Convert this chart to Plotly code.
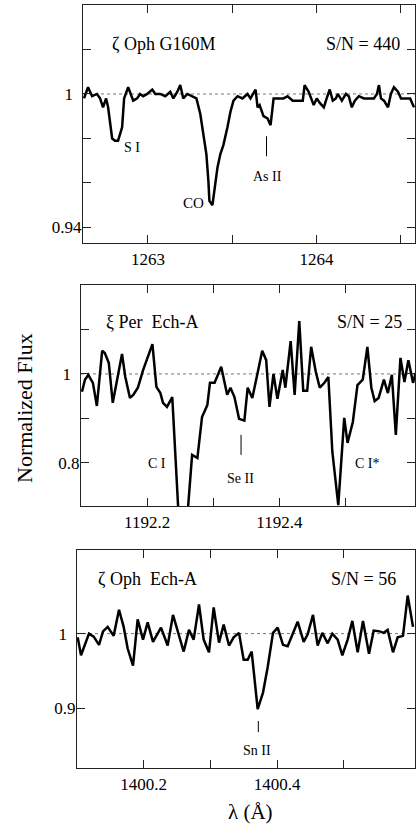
import plotly.graph_objects as go

# ---------------- Panel 1: zeta Oph G160M ----------------
wl1 = [1262.621, 1262.645, 1262.669, 1262.698, 1262.716, 1262.734, 1262.752, 1262.764,
       1262.788, 1262.805, 1262.823, 1262.847, 1262.859, 1262.883, 1262.913, 1262.936,
       1262.954, 1262.972, 1262.996, 1263.026, 1263.044, 1263.073, 1263.103, 1263.133,
       1263.151, 1263.175, 1263.192, 1263.210, 1263.234, 1263.264, 1263.288, 1263.311,
       1263.329, 1263.347, 1263.359, 1263.365, 1263.383, 1263.395, 1263.413, 1263.430,
       1263.448, 1263.472, 1263.490, 1263.508, 1263.532, 1263.561, 1263.591, 1263.609,
       1263.639, 1263.651, 1263.663, 1263.686, 1263.710, 1263.728, 1263.746, 1263.776,
       1263.805, 1263.829, 1263.859, 1263.889, 1263.919, 1263.930, 1263.954, 1263.984,
       1264.002, 1264.020, 1264.044, 1264.061, 1264.079, 1264.097, 1264.115, 1264.127,
       1264.151, 1264.175, 1264.192, 1264.210, 1264.228, 1264.252, 1264.282, 1264.311,
       1264.341, 1264.359, 1264.371, 1264.383, 1264.401, 1264.425, 1264.442, 1264.460,
       1264.484, 1264.502, 1264.532, 1264.556, 1264.579]
flux1 = [0.998, 1.003, 0.999, 1.000, 0.998, 0.994, 0.998, 0.994,
         0.980, 0.979, 0.979, 0.985, 0.998, 1.003, 0.997, 0.998,
         1.000, 0.999, 1.000, 1.002, 1.000, 1.000, 0.999, 1.001,
         0.998, 1.001, 1.004, 0.998, 1.000, 0.999, 0.998, 0.991,
         0.983, 0.973, 0.961, 0.952, 0.950, 0.957, 0.967, 0.973,
         0.977, 0.985, 0.992, 0.997, 0.999, 0.998, 1.000, 0.998,
         1.002, 0.994, 0.995, 0.990, 0.989, 0.986, 0.998, 0.998,
         0.998, 0.999, 0.997, 0.997, 0.997, 1.004, 1.001, 0.995,
         0.998, 0.996, 0.994, 0.998, 1.002, 0.997, 0.998, 1.000,
         0.997, 1.000, 0.999, 0.994, 0.997, 0.999, 0.998, 0.998,
         0.998, 1.000, 1.004, 0.998, 0.997, 0.994, 1.000, 1.003,
         1.001, 0.998, 0.998, 0.998, 0.994]

# ---------------- Panel 2: xi Per Ech-A ----------------
wl2 = [1192.1015, 1192.106, 1192.111, 1192.118, 1192.124, 1192.132, 1192.136, 1192.142,
       1192.148, 1192.155, 1192.162, 1192.167, 1192.174, 1192.179, 1192.186, 1192.194,
       1192.200, 1192.208, 1192.214, 1192.220, 1192.224, 1192.230, 1192.238, 1192.253,
       1192.268, 1192.276, 1192.283, 1192.291, 1192.295, 1192.302, 1192.312, 1192.321,
       1192.326, 1192.332, 1192.339, 1192.347, 1192.352, 1192.359, 1192.367, 1192.374,
       1192.380, 1192.385, 1192.391, 1192.397, 1192.405, 1192.409, 1192.417, 1192.423,
       1192.430, 1192.436, 1192.442, 1192.448, 1192.455, 1192.461, 1192.468, 1192.474,
       1192.480, 1192.489, 1192.498, 1192.503, 1192.511, 1192.518, 1192.526, 1192.533,
       1192.539, 1192.544, 1192.550, 1192.558, 1192.564, 1192.570, 1192.576, 1192.583,
       1192.589, 1192.595, 1192.602, 1192.606]
flux2 = [0.960, 0.987, 0.998, 0.980, 0.928, 1.052, 1.047, 1.025,
         0.935, 0.993, 1.045, 0.993, 0.946, 0.953, 0.969, 1.009,
         1.036, 1.067, 0.971, 0.957, 0.935, 0.926, 0.948, 0.530,
         0.818, 0.811, 0.903, 0.930, 0.980, 0.980, 1.016, 0.953,
         0.969, 0.948, 0.899, 0.895, 0.969, 0.946, 1.002, 1.052,
         1.031, 0.926, 1.000, 0.944, 1.009, 0.969, 1.074, 0.953,
         1.119, 0.962, 0.962, 1.061, 1.005, 0.969, 0.980, 0.993,
         0.825, 0.705, 0.901, 0.845, 0.892, 0.975, 0.987, 1.061,
         0.969, 0.939, 0.946, 0.987, 0.957, 0.998, 0.863, 1.036,
         0.982, 1.031, 0.980, 1.002]

# ---------------- Panel 3: zeta Oph Ech-A ----------------
wl3 = [1400.101, 1400.106, 1400.118, 1400.125, 1400.133, 1400.139, 1400.146, 1400.155,
       1400.163, 1400.170, 1400.176, 1400.184, 1400.191, 1400.199, 1400.206, 1400.214,
       1400.226, 1400.236, 1400.244, 1400.251, 1400.260, 1400.268, 1400.275, 1400.283,
       1400.290, 1400.298, 1400.305, 1400.313, 1400.320, 1400.328, 1400.335, 1400.343,
       1400.350, 1400.356, 1400.362, 1400.371, 1400.379, 1400.386, 1400.394, 1400.401,
       1400.409, 1400.416, 1400.424, 1400.431, 1400.440, 1400.446, 1400.454, 1400.461,
       1400.468, 1400.476, 1400.483, 1400.491, 1400.498, 1400.506, 1400.513, 1400.521,
       1400.529, 1400.538, 1400.545, 1400.554, 1400.560, 1400.566, 1400.574, 1400.581,
       1400.589, 1400.596, 1400.604]
flux3 = [0.995, 0.971, 1.000, 0.996, 0.985, 1.003, 1.009, 0.997,
         1.032, 1.009, 0.980, 0.957, 1.019, 0.992, 1.015, 0.989,
         1.008, 0.984, 1.025, 1.005, 0.976, 1.005, 0.992, 1.039,
         0.992, 0.975, 1.035, 0.988, 1.012, 0.984, 0.995, 1.001,
         0.965, 0.965, 0.976, 0.899, 0.921, 0.955, 1.001, 1.008,
         0.985, 0.983, 1.001, 1.016, 0.989, 0.999, 1.025, 0.984,
         1.001, 0.987, 1.000, 0.992, 0.971, 0.992, 1.017, 0.975,
         1.017, 0.973, 1.004, 1.003, 1.001, 1.005, 0.975, 0.995,
         0.997, 1.051, 1.009]

# ---------------- Axis ranges / ticks ----------------
NB = "\u00a0"
xr1 = [1262.615, 1264.585]
yr1 = [0.933, 1.040]
xt1 = [1263, 1263.5, 1264, 1264.5]
xl1 = ["1263", "", "1264", ""]
yt1 = [0.94, 0.96, 0.98, 1.00, 1.02]
yl1 = ["0.94", "", "", "1" + NB * 2, ""]

xr2 = [1192.1, 1192.605]
yr2 = [0.703, 1.20]
xt2 = [1192.2, 1192.3, 1192.4, 1192.5]
xl2 = ["1192.2", "", "1192.4", ""]
yt2 = [0.8, 0.9, 1.0, 1.1]
yl2 = ["0.8", "", "1" + NB * 2, ""]

xr3 = [1400.1, 1400.607]
yr3 = [0.82, 1.112]
xt3 = [1400.2, 1400.3, 1400.4, 1400.5]
xl3 = ["1400.2", "", "1400.4", ""]
yt3 = [0.9, 1.0]
yl3 = ["0.9", "1" + NB * 2]

# ---------------- Labels ----------------
titles = ["ζ Oph G160M", "ξ Per  Ech-A", "ζ Oph  Ech-A"]
title_pos = [(1263.091, 1.0224), (1192.2076, 1.117), (1400.206, 1.073)]
sn_text = ["S/N = 440", "S/N = 25", "S/N = 56"]
sn_pos = [(1264.276, 1.0224), (1192.536, 1.117), (1400.529, 1.073)]

line_labels = [
    (1, "S I", 1262.907, 0.9758, 14),
    (1, "CO", 1263.270, 0.9512, 15),
    (1, "As II", 1263.710, 0.9628, 14),
    (2, "C I", 1192.215, 0.798, 14),
    (2, "Se II", 1192.341, 0.764, 14),
    (2, "C I*", 1192.533, 0.798, 14),
    (3, "Sn II", 1400.370, 0.844, 14),
]
marker_lines = [
    (1, 1263.704, 0.981, 0.972),
    (2, 1192.342, 0.863, 0.818),
    (3, 1400.372, 0.883, 0.868),
]

FONT = "Liberation Serif, Times New Roman, serif"

fig = go.Figure()
for i, (wl, fl) in enumerate([(wl1, flux1), (wl2, flux2), (wl3, flux3)], start=1):
    sfx = "" if i == 1 else str(i)
    fig.add_trace(go.Scatter(x=wl, y=fl, mode="lines", xaxis="x" + sfx, yaxis="y" + sfx,
                             line=dict(color="black", width=2.5), showlegend=False,
                             hoverinfo="skip"))

W, H = 416, 826
domains_x = [[83 / W, 415 / W], [81 / W, 415 / W], [77 / W, 415 / W]]
domains_y = [[1 - 243 / H, 1 - 5 / H], [1 - 506 / H, 1 - 285 / H], [1 - 768 / H, 1 - 550 / H]]
ranges = [(xr1, yr1, xt1, xl1, yt1, yl1), (xr2, yr2, xt2, xl2, yt2, yl2), (xr3, yr3, xt3, xl3, yt3, yl3)]

layout = dict(width=W, height=H, margin=dict(l=0, r=0, t=0, b=0),
              paper_bgcolor="white", plot_bgcolor="white",
              font=dict(family=FONT, color="black", size=17))
common = dict(showline=True, linecolor="#222", linewidth=1.2, mirror="ticks",
              ticks="inside", ticklen=8, tickwidth=1.1, tickcolor="#222",
              showgrid=False, zeroline=False, tickmode="array",
              tickfont=dict(family=FONT, size=17, color="black"))
for i in range(3):
    sfx = "" if i == 0 else str(i + 1)
    xr, yr, xt, xl, yt, yl = ranges[i]
    layout["xaxis" + sfx] = dict(common, domain=domains_x[i], range=xr, tickvals=xt, ticktext=xl,
                                 anchor="y" + sfx)
    layout["yaxis" + sfx] = dict(common, domain=domains_y[i], range=yr, tickvals=yt, ticktext=yl,
                                 anchor="x" + sfx, ticklabelstandoff=-3)
fig.update_layout(**layout)

shapes = []
annotations = []
for i in range(3):
    sfx = "" if i == 0 else str(i + 1)
    shapes.append(dict(type="line", xref="x" + sfx + " domain", yref="y" + sfx,
                       x0=0, x1=1, y0=1, y1=1, layer="below",
                       line=dict(color="#777", width=1, dash="3px,3px")))
    annotations.append(dict(x=title_pos[i][0], y=title_pos[i][1], xref="x" + sfx, yref="y" + sfx,
                            text=titles[i], showarrow=False, xanchor="center", yanchor="middle",
                            font=dict(family=FONT, size=18)))
    annotations.append(dict(x=sn_pos[i][0], y=sn_pos[i][1], xref="x" + sfx, yref="y" + sfx,
                            text=sn_text[i], showarrow=False, xanchor="center", yanchor="middle",
                            font=dict(family=FONT, size=18)))
for p, txt, x, y, fs in line_labels:
    sfx = "" if p == 1 else str(p)
    annotations.append(dict(x=x, y=y, xref="x" + sfx, yref="y" + sfx, text=txt, showarrow=False,
                            xanchor="center", yanchor="middle", font=dict(family=FONT, size=fs)))
for p, x, y0, y1 in marker_lines:
    sfx = "" if p == 1 else str(p)
    shapes.append(dict(type="line", xref="x" + sfx, yref="y" + sfx, x0=x, x1=x, y0=y0, y1=y1,
                       line=dict(color="black", width=1)))

annotations.append(dict(x=24 / W, y=1 - 408 / H, xref="paper", yref="paper",
                        text="Normalized Flux", textangle=-90, showarrow=False,
                        xanchor="center", yanchor="middle", font=dict(family=FONT, size=22)))
annotations.append(dict(x=250 / W, y=1 - 812 / H, xref="paper", yref="paper",
                        text="λ (Å)", showarrow=False, xanchor="center", yanchor="middle",
                        borderpad=0, font=dict(family=FONT, size=21)))

fig.update_layout(shapes=shapes, annotations=annotations)
fig.write_html("out.html", config={"displayModeBar": False},
               post_script="document.body.style.margin='0';document.body.style.overflow='hidden';")
